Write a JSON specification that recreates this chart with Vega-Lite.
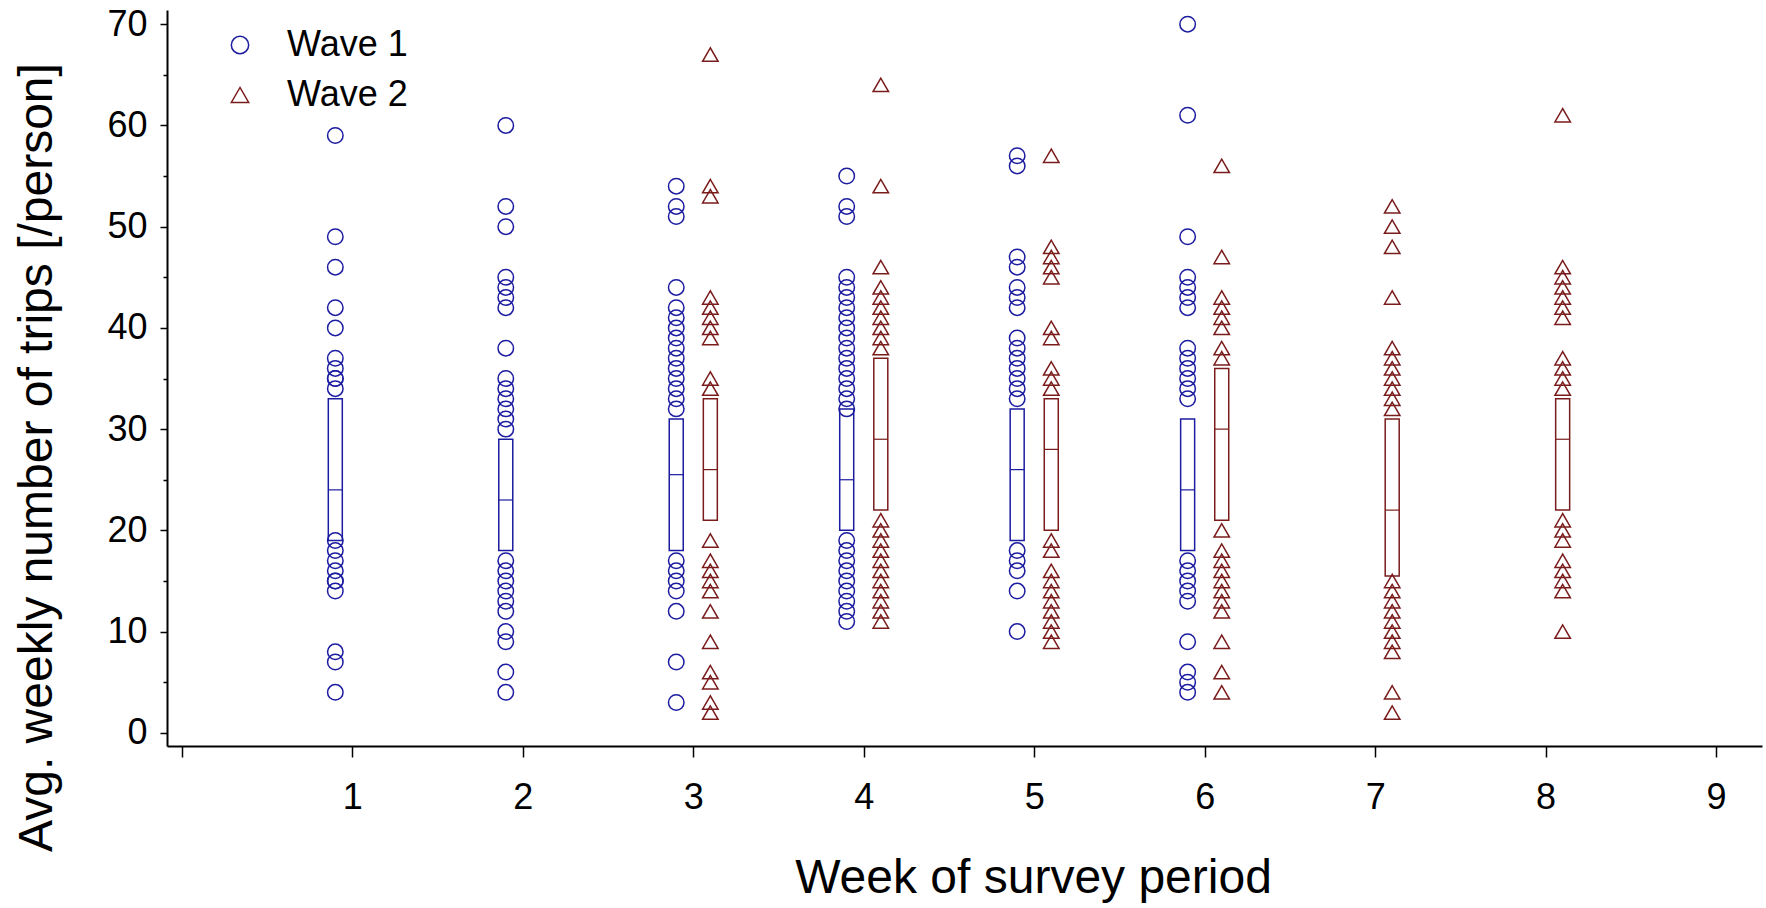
{
"$schema": "https://vega.github.io/schema/vega-lite/v6.json",
"width": 1595,
"height": 736,
"autosize": "none",
"padding": {"left": 167, "top": 10, "right": 4, "bottom": 162},
"background": "white",
"config": {
  "view": {"stroke": null},
  "font": "Liberation Sans",
  "legend": {"orient": "none", "legendX": 55, "legendY": 17, "padding": 0, "labelFontSize": 36, "labelColor": "black", "labelFont": "Liberation Sans", "symbolSize": 300, "symbolStrokeWidth": 1.5, "rowPadding": 14, "labelOffset": 29, "symbolOpacity": 1}
},
"datasets": {
"points": [
{"week":1,"wave":"Wave 1","trips":59},{"week":1,"wave":"Wave 1","trips":49},{"week":1,"wave":"Wave 1","trips":46},{"week":1,"wave":"Wave 1","trips":42},{"week":1,"wave":"Wave 1","trips":40},{"week":1,"wave":"Wave 1","trips":37},{"week":1,"wave":"Wave 1","trips":36},{"week":1,"wave":"Wave 1","trips":35},{"week":1,"wave":"Wave 1","trips":35},{"week":1,"wave":"Wave 1","trips":34},{"week":1,"wave":"Wave 1","trips":19},{"week":1,"wave":"Wave 1","trips":18},{"week":1,"wave":"Wave 1","trips":17},{"week":1,"wave":"Wave 1","trips":16},{"week":1,"wave":"Wave 1","trips":15},{"week":1,"wave":"Wave 1","trips":15},{"week":1,"wave":"Wave 1","trips":14},{"week":1,"wave":"Wave 1","trips":8},{"week":1,"wave":"Wave 1","trips":7},{"week":1,"wave":"Wave 1","trips":4},
{"week":2,"wave":"Wave 1","trips":60},{"week":2,"wave":"Wave 1","trips":52},{"week":2,"wave":"Wave 1","trips":50},{"week":2,"wave":"Wave 1","trips":45},{"week":2,"wave":"Wave 1","trips":44},{"week":2,"wave":"Wave 1","trips":43},{"week":2,"wave":"Wave 1","trips":42},{"week":2,"wave":"Wave 1","trips":38},{"week":2,"wave":"Wave 1","trips":35},{"week":2,"wave":"Wave 1","trips":34},{"week":2,"wave":"Wave 1","trips":33},{"week":2,"wave":"Wave 1","trips":32},{"week":2,"wave":"Wave 1","trips":31},{"week":2,"wave":"Wave 1","trips":30},{"week":2,"wave":"Wave 1","trips":17},{"week":2,"wave":"Wave 1","trips":16},{"week":2,"wave":"Wave 1","trips":15},{"week":2,"wave":"Wave 1","trips":14},{"week":2,"wave":"Wave 1","trips":13},{"week":2,"wave":"Wave 1","trips":12},{"week":2,"wave":"Wave 1","trips":10},{"week":2,"wave":"Wave 1","trips":9},{"week":2,"wave":"Wave 1","trips":6},{"week":2,"wave":"Wave 1","trips":4},
{"week":3,"wave":"Wave 1","trips":54},{"week":3,"wave":"Wave 1","trips":52},{"week":3,"wave":"Wave 1","trips":51},{"week":3,"wave":"Wave 1","trips":44},{"week":3,"wave":"Wave 1","trips":42},{"week":3,"wave":"Wave 1","trips":41},{"week":3,"wave":"Wave 1","trips":40},{"week":3,"wave":"Wave 1","trips":39},{"week":3,"wave":"Wave 1","trips":38},{"week":3,"wave":"Wave 1","trips":37},{"week":3,"wave":"Wave 1","trips":36},{"week":3,"wave":"Wave 1","trips":35},{"week":3,"wave":"Wave 1","trips":34},{"week":3,"wave":"Wave 1","trips":33},{"week":3,"wave":"Wave 1","trips":32},{"week":3,"wave":"Wave 1","trips":17},{"week":3,"wave":"Wave 1","trips":16},{"week":3,"wave":"Wave 1","trips":15},{"week":3,"wave":"Wave 1","trips":14},{"week":3,"wave":"Wave 1","trips":12},{"week":3,"wave":"Wave 1","trips":7},{"week":3,"wave":"Wave 1","trips":3},
{"week":3,"wave":"Wave 2","trips":67},{"week":3,"wave":"Wave 2","trips":54},{"week":3,"wave":"Wave 2","trips":53},{"week":3,"wave":"Wave 2","trips":43},{"week":3,"wave":"Wave 2","trips":42},{"week":3,"wave":"Wave 2","trips":41},{"week":3,"wave":"Wave 2","trips":40},{"week":3,"wave":"Wave 2","trips":39},{"week":3,"wave":"Wave 2","trips":35},{"week":3,"wave":"Wave 2","trips":34},{"week":3,"wave":"Wave 2","trips":19},{"week":3,"wave":"Wave 2","trips":17},{"week":3,"wave":"Wave 2","trips":16},{"week":3,"wave":"Wave 2","trips":15},{"week":3,"wave":"Wave 2","trips":14},{"week":3,"wave":"Wave 2","trips":12},{"week":3,"wave":"Wave 2","trips":9},{"week":3,"wave":"Wave 2","trips":6},{"week":3,"wave":"Wave 2","trips":5},{"week":3,"wave":"Wave 2","trips":3},{"week":3,"wave":"Wave 2","trips":2},
{"week":4,"wave":"Wave 1","trips":55},{"week":4,"wave":"Wave 1","trips":52},{"week":4,"wave":"Wave 1","trips":51},{"week":4,"wave":"Wave 1","trips":45},{"week":4,"wave":"Wave 1","trips":44},{"week":4,"wave":"Wave 1","trips":43},{"week":4,"wave":"Wave 1","trips":42},{"week":4,"wave":"Wave 1","trips":41},{"week":4,"wave":"Wave 1","trips":40},{"week":4,"wave":"Wave 1","trips":39},{"week":4,"wave":"Wave 1","trips":38},{"week":4,"wave":"Wave 1","trips":37},{"week":4,"wave":"Wave 1","trips":36},{"week":4,"wave":"Wave 1","trips":35},{"week":4,"wave":"Wave 1","trips":34},{"week":4,"wave":"Wave 1","trips":33},{"week":4,"wave":"Wave 1","trips":32},{"week":4,"wave":"Wave 1","trips":19},{"week":4,"wave":"Wave 1","trips":18},{"week":4,"wave":"Wave 1","trips":17},{"week":4,"wave":"Wave 1","trips":16},{"week":4,"wave":"Wave 1","trips":15},{"week":4,"wave":"Wave 1","trips":14},{"week":4,"wave":"Wave 1","trips":13},{"week":4,"wave":"Wave 1","trips":12},{"week":4,"wave":"Wave 1","trips":11},
{"week":4,"wave":"Wave 2","trips":64},{"week":4,"wave":"Wave 2","trips":54},{"week":4,"wave":"Wave 2","trips":46},{"week":4,"wave":"Wave 2","trips":44},{"week":4,"wave":"Wave 2","trips":43},{"week":4,"wave":"Wave 2","trips":42},{"week":4,"wave":"Wave 2","trips":41},{"week":4,"wave":"Wave 2","trips":40},{"week":4,"wave":"Wave 2","trips":39},{"week":4,"wave":"Wave 2","trips":38},{"week":4,"wave":"Wave 2","trips":21},{"week":4,"wave":"Wave 2","trips":20},{"week":4,"wave":"Wave 2","trips":19},{"week":4,"wave":"Wave 2","trips":18},{"week":4,"wave":"Wave 2","trips":17},{"week":4,"wave":"Wave 2","trips":16},{"week":4,"wave":"Wave 2","trips":15},{"week":4,"wave":"Wave 2","trips":14},{"week":4,"wave":"Wave 2","trips":13},{"week":4,"wave":"Wave 2","trips":12},{"week":4,"wave":"Wave 2","trips":11},
{"week":5,"wave":"Wave 1","trips":57},{"week":5,"wave":"Wave 1","trips":56},{"week":5,"wave":"Wave 1","trips":47},{"week":5,"wave":"Wave 1","trips":46},{"week":5,"wave":"Wave 1","trips":44},{"week":5,"wave":"Wave 1","trips":43},{"week":5,"wave":"Wave 1","trips":42},{"week":5,"wave":"Wave 1","trips":39},{"week":5,"wave":"Wave 1","trips":38},{"week":5,"wave":"Wave 1","trips":37},{"week":5,"wave":"Wave 1","trips":36},{"week":5,"wave":"Wave 1","trips":35},{"week":5,"wave":"Wave 1","trips":34},{"week":5,"wave":"Wave 1","trips":33},{"week":5,"wave":"Wave 1","trips":18},{"week":5,"wave":"Wave 1","trips":17},{"week":5,"wave":"Wave 1","trips":16},{"week":5,"wave":"Wave 1","trips":14},{"week":5,"wave":"Wave 1","trips":10},
{"week":5,"wave":"Wave 2","trips":57},{"week":5,"wave":"Wave 2","trips":48},{"week":5,"wave":"Wave 2","trips":47},{"week":5,"wave":"Wave 2","trips":46},{"week":5,"wave":"Wave 2","trips":45},{"week":5,"wave":"Wave 2","trips":40},{"week":5,"wave":"Wave 2","trips":39},{"week":5,"wave":"Wave 2","trips":36},{"week":5,"wave":"Wave 2","trips":35},{"week":5,"wave":"Wave 2","trips":34},{"week":5,"wave":"Wave 2","trips":19},{"week":5,"wave":"Wave 2","trips":18},{"week":5,"wave":"Wave 2","trips":16},{"week":5,"wave":"Wave 2","trips":15},{"week":5,"wave":"Wave 2","trips":14},{"week":5,"wave":"Wave 2","trips":13},{"week":5,"wave":"Wave 2","trips":12},{"week":5,"wave":"Wave 2","trips":11},{"week":5,"wave":"Wave 2","trips":10},{"week":5,"wave":"Wave 2","trips":9},
{"week":6,"wave":"Wave 1","trips":70},{"week":6,"wave":"Wave 1","trips":61},{"week":6,"wave":"Wave 1","trips":49},{"week":6,"wave":"Wave 1","trips":45},{"week":6,"wave":"Wave 1","trips":44},{"week":6,"wave":"Wave 1","trips":43},{"week":6,"wave":"Wave 1","trips":42},{"week":6,"wave":"Wave 1","trips":38},{"week":6,"wave":"Wave 1","trips":37},{"week":6,"wave":"Wave 1","trips":36},{"week":6,"wave":"Wave 1","trips":35},{"week":6,"wave":"Wave 1","trips":34},{"week":6,"wave":"Wave 1","trips":33},{"week":6,"wave":"Wave 1","trips":17},{"week":6,"wave":"Wave 1","trips":16},{"week":6,"wave":"Wave 1","trips":15},{"week":6,"wave":"Wave 1","trips":14},{"week":6,"wave":"Wave 1","trips":13},{"week":6,"wave":"Wave 1","trips":9},{"week":6,"wave":"Wave 1","trips":6},{"week":6,"wave":"Wave 1","trips":5},{"week":6,"wave":"Wave 1","trips":4},
{"week":6,"wave":"Wave 2","trips":56},{"week":6,"wave":"Wave 2","trips":47},{"week":6,"wave":"Wave 2","trips":43},{"week":6,"wave":"Wave 2","trips":42},{"week":6,"wave":"Wave 2","trips":41},{"week":6,"wave":"Wave 2","trips":40},{"week":6,"wave":"Wave 2","trips":38},{"week":6,"wave":"Wave 2","trips":37},{"week":6,"wave":"Wave 2","trips":20},{"week":6,"wave":"Wave 2","trips":18},{"week":6,"wave":"Wave 2","trips":17},{"week":6,"wave":"Wave 2","trips":16},{"week":6,"wave":"Wave 2","trips":15},{"week":6,"wave":"Wave 2","trips":14},{"week":6,"wave":"Wave 2","trips":13},{"week":6,"wave":"Wave 2","trips":12},{"week":6,"wave":"Wave 2","trips":9},{"week":6,"wave":"Wave 2","trips":6},{"week":6,"wave":"Wave 2","trips":4},
{"week":7,"wave":"Wave 2","trips":52},{"week":7,"wave":"Wave 2","trips":50},{"week":7,"wave":"Wave 2","trips":48},{"week":7,"wave":"Wave 2","trips":43},{"week":7,"wave":"Wave 2","trips":38},{"week":7,"wave":"Wave 2","trips":37},{"week":7,"wave":"Wave 2","trips":36},{"week":7,"wave":"Wave 2","trips":35},{"week":7,"wave":"Wave 2","trips":34},{"week":7,"wave":"Wave 2","trips":33},{"week":7,"wave":"Wave 2","trips":32},{"week":7,"wave":"Wave 2","trips":15},{"week":7,"wave":"Wave 2","trips":14},{"week":7,"wave":"Wave 2","trips":13},{"week":7,"wave":"Wave 2","trips":12},{"week":7,"wave":"Wave 2","trips":11},{"week":7,"wave":"Wave 2","trips":10},{"week":7,"wave":"Wave 2","trips":9},{"week":7,"wave":"Wave 2","trips":8},{"week":7,"wave":"Wave 2","trips":4},{"week":7,"wave":"Wave 2","trips":2},
{"week":8,"wave":"Wave 2","trips":61},{"week":8,"wave":"Wave 2","trips":46},{"week":8,"wave":"Wave 2","trips":45},{"week":8,"wave":"Wave 2","trips":44},{"week":8,"wave":"Wave 2","trips":43},{"week":8,"wave":"Wave 2","trips":42},{"week":8,"wave":"Wave 2","trips":41},{"week":8,"wave":"Wave 2","trips":37},{"week":8,"wave":"Wave 2","trips":36},{"week":8,"wave":"Wave 2","trips":35},{"week":8,"wave":"Wave 2","trips":34},{"week":8,"wave":"Wave 2","trips":21},{"week":8,"wave":"Wave 2","trips":20},{"week":8,"wave":"Wave 2","trips":19},{"week":8,"wave":"Wave 2","trips":17},{"week":8,"wave":"Wave 2","trips":16},{"week":8,"wave":"Wave 2","trips":15},{"week":8,"wave":"Wave 2","trips":14},{"week":8,"wave":"Wave 2","trips":10}
],
"boxes": [
{"week":1,"wave":"Wave 1","q1":19,"median":24,"q3":33},
{"week":2,"wave":"Wave 1","q1":18,"median":23,"q3":29},
{"week":3,"wave":"Wave 1","q1":18,"median":25.5,"q3":31},
{"week":3,"wave":"Wave 2","q1":21,"median":26,"q3":33},
{"week":4,"wave":"Wave 1","q1":20,"median":25,"q3":32},
{"week":4,"wave":"Wave 2","q1":22,"median":29,"q3":37},
{"week":5,"wave":"Wave 1","q1":19,"median":26,"q3":32},
{"week":5,"wave":"Wave 2","q1":20,"median":28,"q3":33},
{"week":6,"wave":"Wave 1","q1":18,"median":24,"q3":31},
{"week":6,"wave":"Wave 2","q1":21,"median":30,"q3":36},
{"week":7,"wave":"Wave 2","q1":15.5,"median":22,"q3":31},
{"week":8,"wave":"Wave 2","q1":22,"median":29,"q3":33}
]
},
"layer": [
{
  "data": {"name": "points"},
  "transform": [{"calculate": "datum.week + (datum.wave === 'Wave 1' ? -0.1 : 0.1)", "as": "pos"}],
  "mark": {"type": "point", "filled": false, "size": 240, "strokeWidth": 1.5, "opacity": 1},
  "encoding": {
    "x": {"field": "pos", "type": "quantitative",
      "scale": {"domain": [-0.058, 9.24], "nice": false, "zero": false},
      "axis": {"values": [0,1,2,3,4,5,6,7,8,9], "format": "d", "labelExpr": "datum.value === 0 ? '' : datum.label",
        "title": "Week of survey period", "titleFontSize": 48, "titleFontWeight": "normal", "titleColor": "black",
        "titleX": 866, "titleY": 146, "titleBaseline": "alphabetic", "titleAlign": "center",
        "labelFontSize": 36, "labelColor": "black", "labelPadding": 23, "labelFlush": false, "labelOverlap": false,
        "tickSize": 11, "tickColor": "black", "tickWidth": 1.5, "domainColor": "black", "domainWidth": 2, "grid": false}},
    "y": {"field": "trips", "type": "quantitative",
      "scale": {"domain": [-1.3, 71.4], "nice": false, "zero": false},
      "axis": {"values": [0,5,10,15,20,25,30,35,40,45,50,55,60,65,70],
        "labelExpr": "datum.value % 10 === 0 ? datum.label : ''",
        "title": "Avg. weekly number of trips [/person]", "titleFontSize": 48, "titleFontWeight": "normal", "titleColor": "black",
        "titleX": -116, "titleY": 447, "titleAngle": -90, "titleBaseline": "alphabetic", "titleAlign": "center",
        "labelFontSize": 36, "labelColor": "black", "labelPadding": 13, "labelFlush": false, "labelOverlap": false,
        "tickSize": {"condition": {"test": "datum.value % 10 === 0", "value": 7}, "value": 4},
        "tickColor": "black", "tickWidth": 1.5, "domainColor": "black", "domainWidth": 2, "grid": false}},
    "color": {"field": "wave", "type": "nominal", "title": null,
      "scale": {"domain": ["Wave 1", "Wave 2"], "range": ["#1c1ca0", "#7a1c1c"]}},
    "shape": {"field": "wave", "type": "nominal", "title": null,
      "scale": {"domain": ["Wave 1", "Wave 2"], "range": ["circle", "triangle-up"]}}
  }
},
{
  "data": {"name": "boxes"},
  "transform": [{"calculate": "datum.week + (datum.wave === 'Wave 1' ? -0.1 : 0.1)", "as": "pos"}],
  "mark": {"type": "bar", "width": 14, "filled": false, "strokeWidth": 1.5, "opacity": 1},
  "encoding": {
    "x": {"field": "pos", "type": "quantitative"},
    "y": {"field": "q1", "type": "quantitative"},
    "y2": {"field": "q3"},
    "color": {"field": "wave", "type": "nominal", "title": null}
  }
},
{
  "data": {"name": "boxes"},
  "transform": [
    {"calculate": "datum.week + (datum.wave === 'Wave 1' ? -0.1 : 0.1)", "as": "pos"},
    {"calculate": "datum.pos - 0.041", "as": "left"},
    {"calculate": "datum.pos + 0.041", "as": "right"}
  ],
  "mark": {"type": "rule", "strokeWidth": 1.2, "opacity": 1},
  "encoding": {
    "x": {"field": "left", "type": "quantitative"},
    "x2": {"field": "right"},
    "y": {"field": "median", "type": "quantitative"},
    "color": {"field": "wave", "type": "nominal", "title": null}
  }
}
]
}
